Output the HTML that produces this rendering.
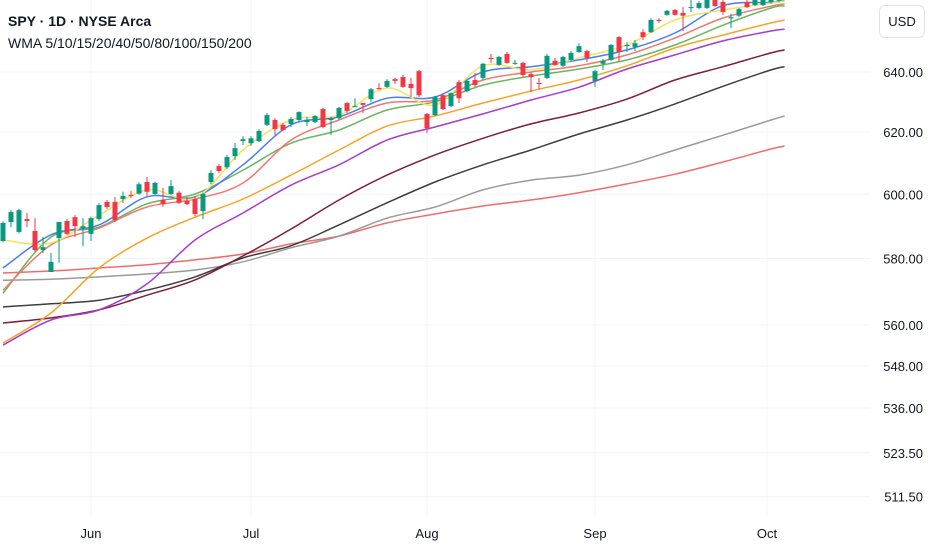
<!DOCTYPE html>
<html><head><meta charset="utf-8"><style>
html,body{margin:0;padding:0;background:#fff;}
svg{display:block;font-family:"Liberation Sans",sans-serif;}
</style></head><body>
<svg id="chart" width="932" height="550"></svg>
<script>
const tickValues=[640,620,600,580,560,548,536,523.5,511.5];
const monthLabels=["Jun","Jul","Aug","Sep","Oct"];
const monthIndex=[11,31,53,74,95.5];
const opens=[585.4,591.3,588.2,592.2,588.5,582.6,575.9,586.3,591.6,592.8,589.4,587.6,592.2,597.6,597.6,598.5,599.8,600.2,603.9,600.1,598.2,600.1,600.5,597.9,598.5,594.7,603.9,609.0,608.6,612.2,617.1,616.4,617.1,622.4,624.0,622.4,622.7,624.0,623.3,623.3,627.6,624.0,624.6,629.6,628.3,629.6,630.9,634.6,635.0,637.6,638.3,636.0,640.3,626.0,625.6,632.2,628.6,636.6,633.6,637.3,638.0,644.8,642.4,646.1,642.8,643.1,639.3,636.3,638.0,643.8,642.1,644.1,646.8,647.1,637.0,642.8,644.1,651.9,648.8,648.5,653.6,653.6,657.8,659.6,661.3,660.3,662.0,662.0,662.0,664.8,664.1,658.4,659.3,664.1,663.0,663.0,664.0,664.5];
const highs=[591.5,595,595.5,594.1,592.5,586.6,581.7,591.3,592.2,593.5,592.5,593.0,597.2,598.2,599.1,600.8,601.1,603.8,605.5,604.0,602.0,604.5,601.1,599.1,599.1,600.5,607.7,609.6,612.6,616.5,618.7,618.7,621.0,626.3,624.6,623.0,625.0,626.9,625.0,625.6,628.0,625.0,628.3,629.9,631.2,629.6,634.6,636.3,637.6,638.0,639.0,638.0,640.7,626.3,632.0,632.6,633.2,637.3,637.3,639.7,643.1,646.1,645.5,646.8,644.1,643.4,640.0,638.0,646.1,644.8,645.5,647.1,649.8,647.5,640.7,644.4,649.5,652.2,650.2,650.9,654.6,658.4,658.4,661.3,661.6,662.3,664.8,664.4,665,665,665,660.0,662.0,665,665.5,665.5,666,666.5];
const lows=[585.0,589.7,587.8,589.7,582.0,581.7,575.9,578.7,587.3,586.6,583.8,585.4,591.6,595.4,591.3,597.3,598.8,599.8,599.5,599.8,596.0,599.8,596.9,596.6,593.1,592.2,603.2,606.7,608.0,611.0,615.8,615.5,616.8,622.0,619.0,620.4,621.7,623.3,622.0,623.0,621.3,619.0,624.0,626.3,628.3,626.3,629.9,634.2,634.6,636.0,634.6,631.6,631.6,619.7,625.3,627.3,628.3,629.6,633.2,635.0,637.3,643.1,642.1,642.8,642.4,638.3,633.2,634.2,637.6,642.1,641.7,643.8,646.5,643.4,635.0,640.7,643.8,643.4,646.8,647.1,650.9,653.3,656.8,659.3,659.3,654.0,660.6,661.6,661.6,662.3,659.6,655.0,658.8,662.0,662.7,662.7,663.5,664];
const closes=[591.0,594.4,595.0,591.6,582.6,583.5,579.0,591.3,587.6,590.0,590.0,592.5,596.6,596.0,591.9,599.5,599.5,603.2,600.8,603.6,596.9,602.6,597.3,596.9,593.8,600.1,606.8,607.4,611.9,614.8,617.7,618.0,620.4,625.6,621.0,620.7,624.3,626.6,624.0,625.3,621.7,624.6,628.0,627.0,628.6,629.0,634.2,634.2,637.0,637.0,635.0,634.6,632.2,621.3,631.6,627.6,632.9,631.2,637.0,635.6,642.8,644.4,645.1,643.1,643.1,639.0,638.3,636.0,645.5,642.4,645.1,646.5,648.8,644.8,640.3,643.8,649.2,646.8,649.2,649.8,651.9,657.8,657.5,661.0,659.6,659.3,662.3,663.7,664.8,662.7,660.6,658.8,661.6,662.3,664.8,664.8,665.5,666];
const maIndex=[0,6,12,18,24,30,36,42,48,54,60,66,72,78,84,90,96,97.7];
const wma5=[585.7,584.8,593.4,601.4,598.8,614.2,624.0,625.6,634.6,629.0,642.1,640.7,644.8,649.2,657.8,661.3,663.7,664.4];
const wma10=[577.1,587.3,590.4,599.2,599.2,609.4,622.4,625.0,631.2,631.6,640.0,641.8,644.1,647.5,653.3,662.8,663.9,664.6];
const wma15=[570.4,584.2,589.4,596.0,598.5,603.6,617.4,624.0,629.6,630.6,637.3,640.0,642.1,645.8,651.6,658.5,662.6,663.4];
const wma20=[569.5,586.6,589.7,597.0,600.1,607.7,616.4,620.7,627.3,630.0,635.6,638.6,641.0,644.1,649.2,656.0,662.0,662.7];
const wma40=[554.7,563.6,577.1,586.3,592.8,598.5,606.1,614.2,622.0,625.3,629.6,633.6,637.3,642.1,648.2,652.6,656.8,657.8];
const wma50=[554.1,561.5,564.5,572.3,585.7,594.1,602.9,609.4,617.4,621.7,626.0,630.6,634.9,641.0,645.8,650.6,654.0,654.6];
const wma80=[560.6,562.1,564.5,568.9,573.5,580.8,589.1,598.2,606.1,612.6,618.0,622.7,626.3,630.9,637.3,641.8,646.5,647.5];
const wma100=[565.4,566.3,567.4,570.4,574.4,580.2,583.9,590.4,597.3,603.9,609.4,614.2,619.4,624.0,629.3,635.2,640.7,641.8];
const wma150=[573.4,573.7,574.4,575.3,576.5,579.0,583.3,586.9,592.5,596.0,601.4,604.5,606.1,609.4,614.2,619.0,624.0,625.3];
const wma200=[575.6,576.2,577.1,578.1,579.6,581.4,584.5,586.9,591.0,593.8,596.3,598.2,600.5,603.3,606.4,610.3,614.5,615.5];

const NS="http://www.w3.org/2000/svg";
const svg=document.getElementById('chart');
const Y0=72,K=1895,P0=640;
function yScale(p){return Y0-K*Math.log(p/P0);}
function xScale(i){return 3+8*i;}
function mk(tag,attrs,parent){const e=document.createElementNS(NS,tag);for(const k in attrs)e.setAttribute(k,attrs[k]);(parent||svg).appendChild(e);return e;}
function smoothPath(pts){
  let d='M'+pts[0][0].toFixed(1)+','+pts[0][1].toFixed(1);
  for(let i=0;i<pts.length-1;i++){
    const p0=pts[Math.max(0,i-1)],p1=pts[i],p2=pts[i+1],p3=pts[Math.min(pts.length-1,i+2)];
    const c1x=p1[0]+(p2[0]-p0[0])/6,c1y=p1[1]+(p2[1]-p0[1])/6;
    const c2x=p2[0]-(p3[0]-p1[0])/6,c2y=p2[1]-(p3[1]-p1[1])/6;
    d+=' C'+c1x.toFixed(1)+','+c1y.toFixed(1)+' '+c2x.toFixed(1)+','+c2y.toFixed(1)+' '+p2[0].toFixed(1)+','+p2[1].toFixed(1);
  }
  return d;
}

const grid=mk('g',{});


tickValues.forEach(v=>{
  const l=mk('line',{x1:0,x2:870,y1:yScale(v),y2:yScale(v),stroke:'#f2f4f8','stroke-width':1},grid);
  
  
  const t=mk('text',{x:923,y:yScale(v)+5,'text-anchor':'end','font-size':13,fill:'#131722'});
  t.textContent=v.toFixed(2);
  
  
});
monthLabels.forEach((m,k)=>{
  const x=xScale(monthIndex[k]);
  const l=mk('line',{x1:x,x2:x,y1:0,y2:515,stroke:'#f2f4f8','stroke-width':1},grid);
  
  
  const t=mk('text',{x:x,y:538,'text-anchor':'middle','font-size':13,fill:'#131722'});
  t.textContent=m;
  
  
});

const maSeries=[[wma200,'#f26b6b','wma-200'],[wma150,'#9a9a9a','wma-150'],[wma100,'#3d3d3d','wma-100'],[wma80,'#801c3c','wma-80'],[wma50,'#a63ccf','wma-50'],[wma40,'#f7a426','wma-40'],[wma20,'#6cb55f','wma-20'],[wma15,'#f07a72','wma-15'],[wma10,'#4a7ff0','wma-10'],[wma5,'#f3e35e','wma-5']];
maSeries.forEach(s=>{
  const pts=maIndex.map((i,k)=>[xScale(i),yScale(s[0][k])]);
  const pl=mk('path',{d:smoothPath(pts),fill:'none',stroke:s[1],'stroke-width':1.5,'stroke-linejoin':'round'});
  
  
});

const cg=mk('g',{});


opens.forEach((o,i)=>{
  const c=closes[i],up=c>=o,col=up?'#089981':'#f23645',x=xScale(i);
  const w=mk('line',{x1:x,x2:x,y1:yScale(highs[i]),y2:yScale(lows[i]),stroke:col,'stroke-width':1},cg);
  
  
  const top=yScale(Math.max(o,c)),bot=yScale(Math.min(o,c));
  const b=mk('rect',{x:x-2.5,y:top,width:5,height:Math.max(1,bot-top),fill:col},cg);
  
  
});
</script>
<div style="position:absolute;left:8px;top:13px;font:bold 14px 'Liberation Sans',sans-serif;color:#131722;">SPY · 1D · NYSE Arca</div>
<div style="position:absolute;left:8px;top:35px;font:14px 'Liberation Sans',sans-serif;color:#131722;">WMA 5/10/15/20/40/50/80/100/150/200</div>
<div style="position:absolute;left:879px;top:5px;width:46px;height:33px;box-sizing:border-box;border:1px solid #e0e3eb;border-radius:6px;background:#fff;font:13px 'Liberation Sans',sans-serif;color:#131722;display:flex;align-items:center;justify-content:center;">USD</div>
</body></html>
